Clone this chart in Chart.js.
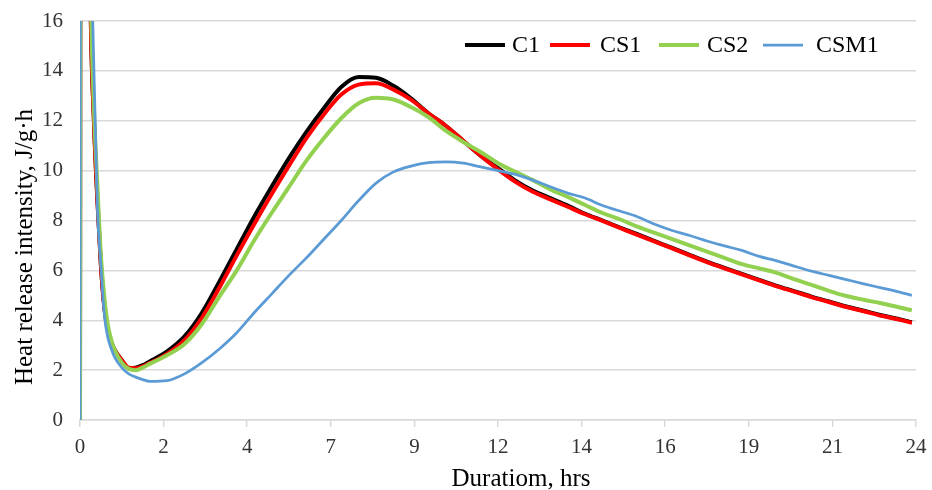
<!DOCTYPE html>
<html>
<head>
<meta charset="utf-8">
<script src="https://cdn.jsdelivr.net/npm/chart.js@4"></script>
<style>
  body { margin: 0; background: #fff; }
</style>
</head>
<body>
<canvas id="myChart" width="932" height="490"></canvas>
<script>
// hours of measurement
let hours = [0, 0.03, 0.3, 0.4, 0.5, 0.6, 0.7, 0.8, 0.9, 1.0, 1.2, 1.4, 1.6, 1.8, 2.0, 2.5, 3.0, 3.5, 4.0, 4.5,
  5.0, 5.5, 6.0, 6.5, 7.0, 7.5, 8.0, 8.5, 9.0, 9.5, 10.0, 10.5, 11.0, 11.5, 12.0, 12.5, 13.0, 13.5, 14.0, 14.5,
  15.0, 15.5, 16.0, 16.5, 17.0, 17.5, 18.0, 18.5, 19.0, 19.5, 20.0, 20.5, 21.0, 21.5, 22.0, 22.5, 23.0, 23.5, 23.88];

let c1 = [0, 60, 17, 12, 8.8, 6.2, 4.5, 3.6, 3.1, 2.8, 2.4, 2.08, 2.1, 2.2, 2.35, 2.75, 3.35, 4.3, 5.55, 6.85,
  8.15, 9.35, 10.5, 11.55, 12.5, 13.35, 13.75, 13.72, 13.4, 12.9, 12.3, 11.8, 11.2, 10.6, 10.1, 9.6, 9.2, 8.9, 8.6, 8.27,
  8.0, 7.72, 7.45, 7.17, 6.9, 6.62, 6.35, 6.1, 5.86, 5.62, 5.38, 5.17, 4.95, 4.75, 4.55, 4.38, 4.2, 4.05, 3.92];

let cs1 = [0, 60, 17, 12, 8.8, 6.2, 4.5, 3.6, 3.1, 2.8, 2.4, 2.1, 2.08, 2.15, 2.28, 2.65, 3.2, 4.1, 5.3, 6.6,
  7.85, 9.05, 10.2, 11.3, 12.25, 13.05, 13.45, 13.5, 13.25, 12.85, 12.3, 11.8, 11.2, 10.6, 10.05, 9.55, 9.15, 8.85, 8.55, 8.25,
  7.98, 7.7, 7.42, 7.15, 6.88, 6.6, 6.33, 6.08, 5.84, 5.6, 5.36, 5.15, 4.93, 4.73, 4.53, 4.36, 4.18, 4.03, 3.9];

let cs2 = [0, 60, 18, 12.5, 9.4, 6.6, 4.9, 3.8, 3.2, 2.8, 2.3, 2.05, 2.0, 2.1, 2.25, 2.6, 3.05, 3.85, 4.95, 6.0,
  7.2, 8.3, 9.35, 10.4, 11.3, 12.1, 12.7, 12.92, 12.85, 12.55, 12.15, 11.6, 11.15, 10.75, 10.3, 9.95, 9.62, 9.25, 8.95, 8.62,
  8.3, 8.05, 7.75, 7.5, 7.25, 7.0, 6.75, 6.5, 6.25, 6.08, 5.9, 5.65, 5.42, 5.18, 4.97, 4.82, 4.68, 4.52, 4.4];

let csm1 = [0, 60, 21, 14, 8.5, 6.2, 4.2, 3.3, 2.85, 2.5, 2.1, 1.85, 1.72, 1.62, 1.55, 1.58, 1.85, 2.3, 2.85, 3.5,
  4.3, 5.05, 5.8, 6.5, 7.25, 8.0, 8.8, 9.5, 9.95, 10.18, 10.32, 10.35, 10.3, 10.15, 10.0, 9.85, 9.62, 9.35, 9.1, 8.9,
  8.6, 8.38, 8.15, 7.85, 7.6, 7.4, 7.18, 6.98, 6.8, 6.56, 6.38, 6.17, 5.97, 5.8, 5.63, 5.46, 5.3, 5.14, 5.0];

let seriesNames = ['C1', 'CS1', 'CS2', 'CSM1'];

// x axis ticks sit every 2.4 h, labelled with whole hours
let xTickHours = [0, 2.4, 4.8, 7.2, 9.6, 12, 14.4, 16.8, 19.2, 21.6, 24];
let xTickLabels = ['0', '2', '4', '7', '9', '12', '14', '16', '19', '21', '24'];

let xTitle = 'Duratiom, hrs';
let yTitle = 'Heat release intensity, J/g·h';

function toPoints(values) {
  return hours.map((h, i) => ({ x: h, y: values[i] }));
}

const serif = 'Liberation Serif';

// legend inside the plot (top right) and the two axis titles, placed like the original
const extras = {
  id: 'extras',
  afterDraw(chart) {
    const ctx = chart.ctx;
    const lineX = [465, 550, 659, 763];
    const textX = [512, 600, 707, 816];
    const y = 45;
    ctx.save();
    ctx.font = '24px "' + serif + '"';
    ctx.textBaseline = 'middle';
    ctx.fillStyle = '#000';
    chart.data.datasets.forEach((ds, i) => {
      ctx.strokeStyle = ds.borderColor;
      ctx.lineWidth = ds.borderWidth;
      ctx.beginPath();
      ctx.moveTo(lineX[i], y);
      ctx.lineTo(lineX[i] + 40, y);
      ctx.stroke();
      ctx.fillText(ds.label, textX[i], y + 1);
    });

    ctx.font = '25px "' + serif + '"';
    ctx.textAlign = 'center';
    ctx.fillText(xTitle, 521, 479);

    ctx.translate(25, 247);
    ctx.rotate(-Math.PI / 2);
    ctx.fillText(yTitle, 0, 0);
    ctx.restore();
  }
};

let ctx = document.getElementById('myChart').getContext('2d');
let myChart = new Chart(ctx, {
  type: 'line',
  data: {
    datasets: [
      { label: seriesNames[0], data: toPoints(c1), borderColor: '#000000', borderWidth: 4, order: 4 },
      { label: seriesNames[1], data: toPoints(cs1), borderColor: '#ff0000', borderWidth: 4, order: 3 },
      { label: seriesNames[2], data: toPoints(cs2), borderColor: '#92d050', borderWidth: 4, order: 2 },
      { label: seriesNames[3], data: toPoints(csm1), borderColor: '#5b9bd5', borderWidth: 2.75, order: 1 },
    ],
  },
  options: {
    responsive: false,
    animation: false,
    devicePixelRatio: 1,
    elements: {
      point: { radius: 0 },
      line: { cubicInterpolationMode: 'monotone', fill: false },
    },
    layout: { padding: { top: 21, right: 16, left: 0, bottom: 0 } },
    plugins: {
      legend: { display: false },
      tooltip: { enabled: false },
    },
    scales: {
      x: {
        type: 'linear',
        min: 0,
        max: 24,
        afterBuildTicks(scale) {
          scale.ticks = xTickHours.map(v => ({ value: v }));
        },
        afterFit(scale) {
          scale.height = 70;
          scale.paddingLeft = 0;
          scale.paddingRight = 0;
        },
        ticks: {
          autoSkip: false,
          maxRotation: 0,
          padding: 8,
          color: '#333',
          font: { family: serif, size: 21 },
          callback: (v, i) => xTickLabels[i],
        },
        grid: { drawOnChartArea: false, color: '#d9d9d9', lineWidth: 1.5, tickLength: 7 },
        border: { display: true, color: '#d9d9d9', width: 1.5 },
      },
      y: {
        min: 0,
        max: 16,
        afterFit(scale) {
          scale.width = 80;
          scale.paddingTop = 0;
          scale.paddingBottom = 0;
        },
        ticks: {
          stepSize: 2,
          padding: 17,
          color: '#333',
          font: { family: serif, size: 21 },
        },
        grid: { color: '#d9d9d9', lineWidth: 1.5, drawTicks: false },
        border: { display: false },
      },
    },
  },
  plugins: [extras],
});
</script>
</body>
</html>
